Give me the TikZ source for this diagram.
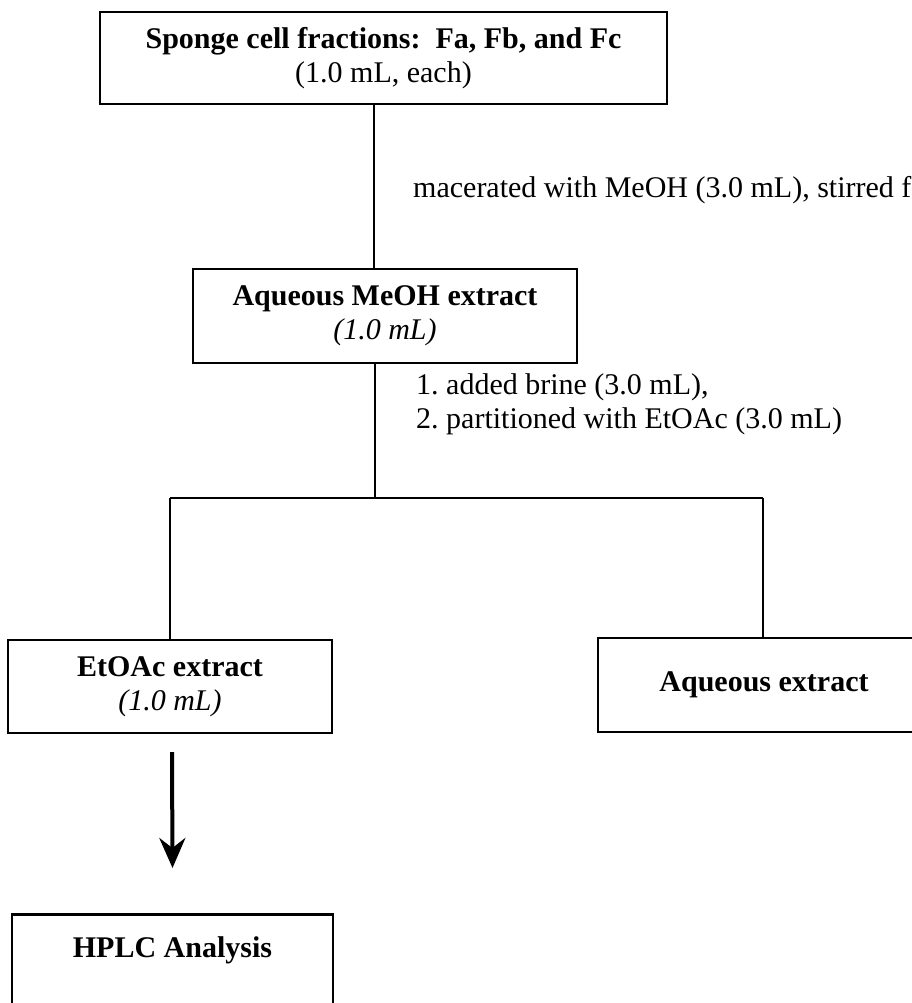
\documentclass[tikz,border=0pt]{standalone}
\usepackage{fontspec}
\setmainfont{Liberation Serif}
\usetikzlibrary{arrows.meta}
\frenchspacing
\begin{document}
\begin{tikzpicture}[x=1pt,y=-1pt,
  every node/.style={font=\fontsize{30}{34}\selectfont},
  box/.style={draw=black,line width=2.6pt,align=center,inner sep=0pt},
  conn/.style={draw=black,line width=2pt},
  lab/.style={anchor=west,align=left,inner sep=0pt}]
\useasboundingbox (0,0) rectangle (912,1003);
\clip (0,0) rectangle (912,1003);
\fill[white] (0,0) rectangle (912,1003);
% boxes
\node[box,minimum width=567pt,minimum height=92pt] (top) at (383.5,58)
  {\textbf{Sponge cell fractions:\ \ Fa, Fb, and Fc}\\(1.0 mL, each)};
\node[box,minimum width=384pt,minimum height=94pt] (meoh) at (385,316)
  {\textbf{Aqueous MeOH extract}\\\textit{(1.0 mL)}};
\node[box,minimum width=324pt,minimum height=93pt] (etoac) at (170,686.5)
  {\textbf{EtOAc extract}\\\textit{(1.0 mL)}};
\node[box,minimum width=332pt,minimum height=94pt] (aq) at (764,685)
  {\textbf{Aqueous extract}};
\node[box,minimum width=321pt,text height=29pt,text depth=80pt,inner ysep=14pt,anchor=north] (hplc) at (172.5,913)
  {\textbf{HPLC Analysis}};
% connectors
\coordinate (s) at (375,498);
\coordinate (sl) at (170,498);
\coordinate (sr) at (763,498);
\coordinate (a1) at (374,104);
\coordinate (a2) at (375,363);
\draw[conn] (a1) -- (a1 |- meoh.north);
\draw[conn] (a2) -- (s);
\draw[conn] (sl) -- (sr);
\draw[conn] (sl) -- (etoac.north);
\draw[conn] (sr) -- (sr |- aq.north);
\coordinate (b1) at (172,752);
\draw[line width=4pt,-{Stealth[length=30pt,width=26pt,inset=10pt]}] (b1) -- (hplc.north |- 0,868);
% labels
\node[lab] (l1) at (413,190) {macerated with MeOH (3.0 mL), stirred for};
\node[lab] (l2) at (416,404) {1. added brine (3.0 mL),\\2. partitioned with EtOAc (3.0 mL)};
\end{tikzpicture}
\end{document}
